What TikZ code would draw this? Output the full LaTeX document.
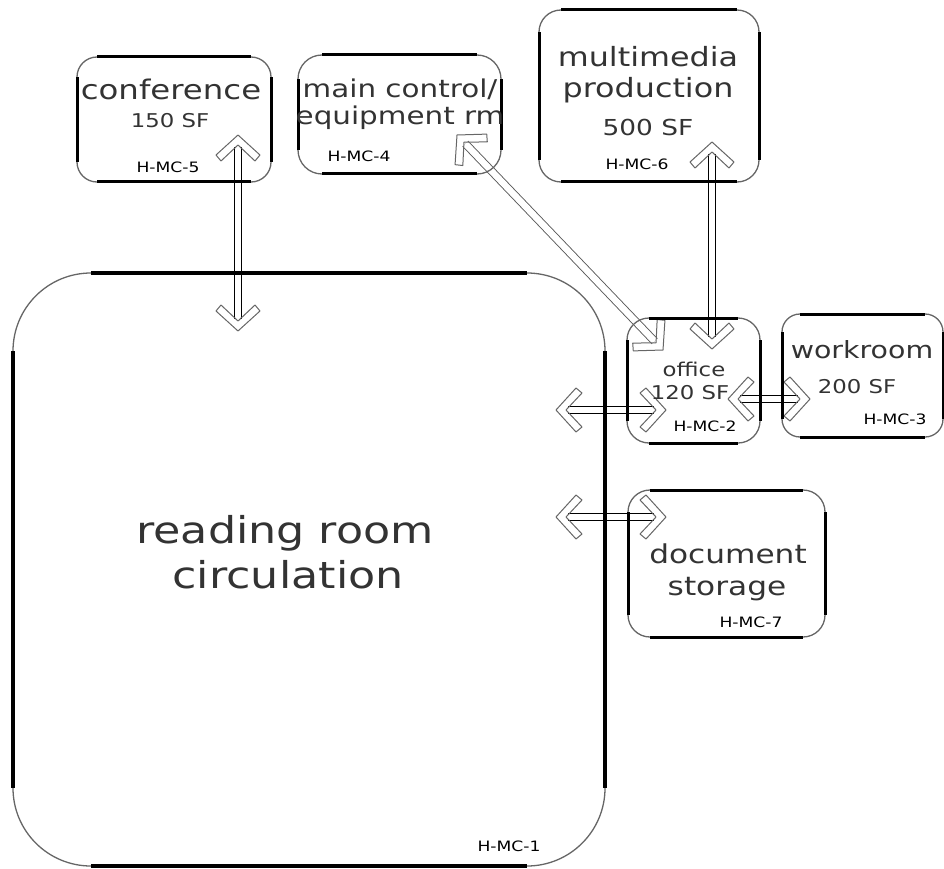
\documentclass[tikz,border=0pt]{standalone}
\usepackage{fontspec}
\setmainfont{DejaVu Sans}[FakeStretch=1.2]
\usetikzlibrary{calc}
\newcommand\fs[1]{\fontsize{#1}{#1}\selectfont}
\newcommand\roomedges[3]{%
  \draw[#3] ([xshift=#2]#1.north west) -- ([xshift=-#2]#1.north east)
    ([xshift=#2]#1.south west) -- ([xshift=-#2]#1.south east)
    ([yshift=-#2]#1.north west) -- ([yshift=#2]#1.south west)
    ([yshift=-#2]#1.north east) -- ([yshift=#2]#1.south east);}
\newcommand\dblarrow[4]{%
  \draw[shaft] ($(#1)!12pt!(#2)$) -- ($(#2)!12pt!(#1)$);
  \pic[rotate=#3] at (#1) {chev};
  \pic[rotate=#4] at (#2) {chev};}
\tikzset{
  room/.style={draw=black!60, line width=1.3pt, rectangle, inner sep=0pt, outer sep=0pt},
  edgeline/.style={line width=3pt, draw=black},
  bigedge/.style={line width=3.6pt, draw=black},
  shaft/.style={draw=black, double=white, double distance=6.5pt, line width=1.2pt},
  chevline/.style={draw=black!60, line width=1pt, line join=round},
  rname/.style={anchor=base, text=black!80, inner sep=0pt},
  rcode/.style={anchor=base, text=black, inner sep=0pt, font=\fs{14.3}},
  chev/.pic={\draw[chevline] (0,0) -- (-20,22) -- (-26,17) -- (-10,0) -- (-26,-17) -- (-20,-22) -- cycle;}
}
\begin{document}
\begin{tikzpicture}[x=1pt,y=-1pt]
\useasboundingbox (0,0) rectangle (944,869);

% arrow end points
\coordinate (confA) at (238,135);
\coordinate (confB) at (238,331);
\coordinate (mcA) at (457,135);
\coordinate (mcB) at (663,350);
\coordinate (mmA) at (712,142);
\coordinate (mmB) at (712,349);
\coordinate (boA) at (556,410);
\coordinate (boB) at (666,410);
\coordinate (owA) at (728,399);
\coordinate (owB) at (810,399);
\coordinate (bdA) at (556,517);
\coordinate (bdB) at (666,517);

% connectors
\dblarrow{confA}{confB}{90}{-90}
\begin{scope}[shaft/.append style={draw=black!65, line width=0.9pt}]
\dblarrow{mcA}{mcB}{134}{-46}
\end{scope}
\dblarrow{mmA}{mmB}{90}{-90}
\dblarrow{boA}{boB}{180}{0}
\dblarrow{owA}{owB}{180}{0}
\dblarrow{bdA}{bdB}{180}{0}

% rooms
\node[room, rounded corners=20pt, minimum width=194pt, minimum height=125pt] (conf) at (174,119.5) {};
\roomedges{conf}{20pt}{edgeline}
\node[room, rounded corners=24pt, minimum width=203pt, minimum height=119pt] (main) at (399.5,114.5) {};
\roomedges{main}{24pt}{edgeline}
\node[room, rounded corners=22pt, minimum width=220pt, minimum height=172pt] (mm) at (649,96) {};
\roomedges{mm}{22pt}{edgeline}
\node[room, rounded corners=22pt, minimum width=133pt, minimum height=125pt] (office) at (693.5,380.5) {};
\roomedges{office}{22pt}{edgeline}
\node[room, rounded corners=18pt, minimum width=161pt, minimum height=123pt] (work) at (862.5,375.5) {};
\roomedges{work}{18pt}{edgeline}
\node[room, rounded corners=22pt, minimum width=197pt, minimum height=147pt] (doc) at (726.5,563.5) {};
\roomedges{doc}{22pt}{edgeline}
\node[room, rounded corners=78pt, minimum width=592pt, minimum height=593pt] (big) at (309,569.5) {};
\roomedges{big}{78pt}{bigedge}

% labels
\node[rname, font=\fs{27}] (t-conf) at (171,100) {conference};
\node[rname, font=\fs{19}] (t-conf2) at (170,128) {150 SF};
\node[rcode] (c-conf) at (168,172) {H-MC-5};

\node[rname, font=\fs{24.5}] (t-main) at (400,98) {main control/};
\node[rname, font=\fs{24.5}] (t-main2) at (400,125) {equipment rm};
\node[rcode] (c-main) at (359,162) {H-MC-4};

\node[rname, font=\fs{26.5}] (t-mm) at (648,67) {multimedia};
\node[rname, font=\fs{26.5}] (t-mm2) at (648,98) {production};
\node[rname, font=\fs{22}] (t-mm3) at (648,136) {500 SF};
\node[rcode] (c-mm) at (637,170) {H-MC-6};

\node[rname, font=\fs{19}] (t-off) at (694,376) {office};
\node[rname, font=\fs{19}] (t-off2) at (690,399) {120 SF};
\node[rcode] (c-off) at (705,431) {H-MC-2};

\node[rname, font=\fs{23.7}] (t-work) at (862,358) {workroom};
\node[rname, font=\fs{19}] (t-work2) at (857,393) {200 SF};
\node[rcode] (c-work) at (895,424) {H-MC-3};

\node[rname, font=\fs{26}] (t-doc) at (728,563) {document};
\node[rname, font=\fs{26}] (t-doc2) at (727,595) {storage};
\node[rcode] (c-doc) at (751,627) {H-MC-7};

\node[rname, font=\fs{37}] (t-big) at (285,543) {reading room};
\node[rname, font=\fs{37}] (t-big2) at (288,588) {circulation};
\node[rcode] (c-big) at (509,851) {H-MC-1};
\end{tikzpicture}
\end{document}
